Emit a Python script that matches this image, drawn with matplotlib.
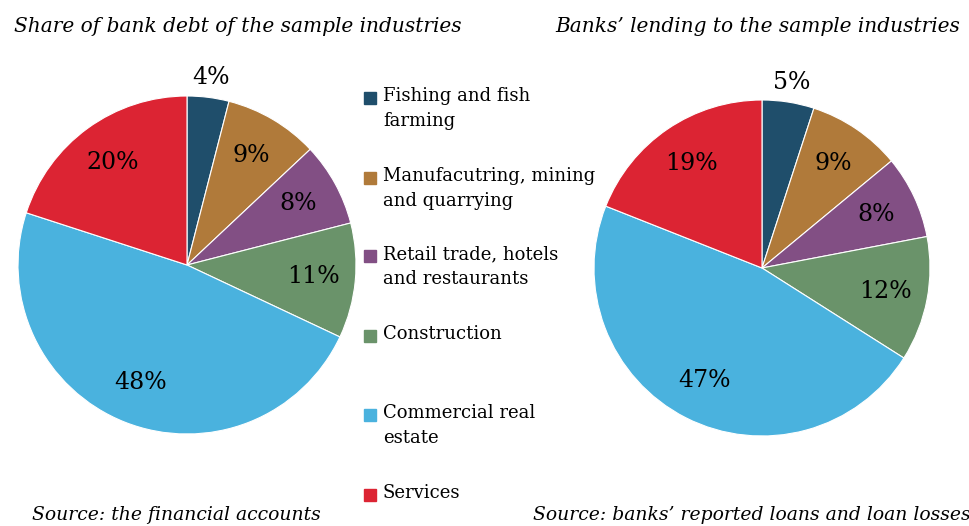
import matplotlib.pyplot as plt
import numpy as np
from matplotlib.patches import Rectangle

plt.rcParams['font.family'] = ['DejaVu Serif']

categories = ['Fishing and fish\nfarming', 'Manufacutring, mining\nand quarrying',
              'Retail trade, hotels\nand restaurants', 'Construction',
              'Commercial real\nestate', 'Services']
colors = ['#1f4e6b', '#b07a3a', '#824f84', '#6a936a', '#4ab2de', '#dc2433']
debt_share = [4, 9, 8, 11, 48, 20]
lending_share = [5, 9, 8, 12, 47, 19]

W, H = 969, 526
fig = plt.figure(figsize=(W / 100, H / 100), dpi=100)


def draw_pie(cx, cy, r, values, title, tx, source, sx):
    ax = fig.add_axes([(cx - r) / W, (H - cy - r) / H, 2 * r / W, 2 * r / H])
    wedges, _ = ax.pie(values, colors=colors, startangle=90, counterclock=False,
                       radius=1.0, wedgeprops=dict(linewidth=0.8, edgecolor='white'))
    total = sum(values)
    for w, v in zip(wedges, values):
        ang = np.deg2rad((w.theta1 + w.theta2) / 2)
        d = 1.12 if v / total < 0.06 else 0.75
        ax.text(d * np.cos(ang), d * np.sin(ang), f'{v}%', ha='center', va='center',
                fontsize=17)
    ax.set_xlim(-1, 1)
    ax.set_ylim(-1, 1)
    ax.set_aspect('equal')
    fig.text(tx / W, 1 - 26 / H, title, style='italic', fontsize=14.5, ha='center', va='center')
    fig.text(sx / W, 1 - 515 / H, source, style='italic', fontsize=13.5, ha='center', va='center')


draw_pie(187, 265, 169, debt_share, 'Share of bank debt of the sample industries', 238,
         'Source: the financial accounts', 176)
draw_pie(762, 268, 168, lending_share, 'Banks\u2019 lending to the sample industries', 758,
         'Source: banks\u2019 reported loans and loan losses', 752)

legend_y = [98, 178, 256, 336, 415, 495]
for lab, col, y in zip(categories, colors, legend_y):
    fig.patches.append(Rectangle((364 / W, 1 - (y + 6) / H), 12 / W, 12 / H,
                                 color=col, transform=fig.transFigure))
    fig.text(383 / W, 1 - (y - 11) / H, lab, fontsize=13, ha='left', va='top',
             linespacing=1.5)

fig.savefig('out.png', dpi=100)
